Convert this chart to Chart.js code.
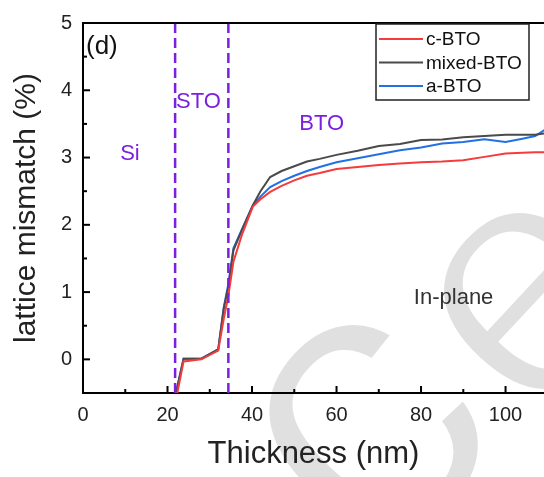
<!DOCTYPE html>
<html>
<head>
<meta charset="utf-8">
<script src="https://cdn.jsdelivr.net/npm/chart.js@4/dist/chart.umd.min.js"></script>
<style>
	html, body { margin: 0; padding: 0; background: #fff; }
	#wrap { width: 544px; height: 477px; }
</style>
</head>
<body>
<div id="wrap"><canvas id="chart"></canvas></div>
<script>
// thickness (nm) sampled along the depth profile
const thickness = [22, 23.8, 28, 32, 33.3, 34.4, 35.6, 37.6, 40.2, 42, 44.3, 47, 50, 53, 56, 60, 65, 70, 75, 80, 85, 90, 95, 100, 104, 107, 109.2];
const cBTO = [-0.6, -0.03, 0.0, 0.13, 0.6, 0.95, 1.45, 1.85, 2.27, 2.38, 2.49, 2.58, 2.66, 2.73, 2.77, 2.83, 2.86, 2.89, 2.91, 2.93, 2.94, 2.96, 3.01, 3.06, 3.07, 3.08, 3.08];
const mixedBTO = [-0.5, 0.01, 0.01, 0.15, 0.75, 1.08, 1.62, 1.92, 2.29, 2.5, 2.71, 2.8, 2.87, 2.94, 2.98, 3.04, 3.1, 3.17, 3.2, 3.26, 3.27, 3.3, 3.32, 3.34, 3.34, 3.34, 3.36];
const aBTO = [-0.5, 0.01, 0.01, 0.15, 0.77, 1.12, 1.65, 1.93, 2.29, 2.42, 2.56, 2.65, 2.73, 2.8, 2.86, 2.93, 2.99, 3.05, 3.11, 3.15, 3.21, 3.23, 3.27, 3.23, 3.28, 3.32, 3.41];

// layer boundaries (nm)
const boundaries = [21.8, 34.4];

const xTicks = [0, 20, 40, 60, 80, 100];
const yTicks = [0, 1, 2, 3, 4, 5];

const FONT = "'Liberation Sans', Arial, sans-serif";
const PURPLE = '#7b1fe0';

const toPoints = (xs, ys) => xs.map((x, i) => ({ x: x, y: ys[i] }));

const series = [
	{ label: 'c-BTO', data: cBTO, color: '#f53b3b' },
	{ label: 'mixed-BTO', data: mixedBTO, color: '#4a4a4a' },
	{ label: 'a-BTO', data: aBTO, color: '#2170e4' },
];

const datasets = boundaries.map((b) => ({
	label: '',
	data: [{ x: b, y: -0.5 }, { x: b, y: 5 }],
	borderColor: PURPLE,
	borderWidth: 2.5,
	borderDash: [10, 5],
	pointRadius: 0,
	showLine: true,
	boundary: true,
}));
series.forEach((s) => {
	datasets.push({
		label: s.label,
		data: toPoints(thickness, s.data),
		borderColor: s.color,
		backgroundColor: s.color,
		borderWidth: 2,
		pointRadius: 0,
		showLine: true,
		tension: 0,
	});
});

// faint publisher watermark behind the plot
const watermark = {
	id: 'watermark',
	beforeDraw(chart) {
		const ctx = chart.ctx;
		ctx.save();
		ctx.textAlign = 'center';
		ctx.textBaseline = 'alphabetic';
		[['c', 370, 434, 410], ['e', 534, 302, 345]].forEach(([ch, cx, cy, size]) => {
			ctx.save();
			ctx.font = size + 'px ' + FONT;
			ctx.translate(cx, cy);
			ctx.rotate(-47 * Math.PI / 180);
			ctx.fillStyle = '#e0e0e0';
			ctx.fillText(ch, 0, 0.26 * size);
			ctx.strokeStyle = '#fff';
			ctx.lineWidth = 8;
			ctx.strokeText(ch, 0, 0.26 * size);
			ctx.restore();
		});
		ctx.restore();
	},
};

// inward ticks, top frame, legend box and labels
const decor = {
	id: 'decor',
	afterDraw(chart) {
		const ctx = chart.ctx;
		const area = chart.chartArea;
		const xs = chart.scales.x, ys = chart.scales.y;
		ctx.save();
		ctx.strokeStyle = '#000';
		ctx.lineWidth = 2;
		ctx.beginPath();
		ctx.moveTo(area.left - 1, area.top);
		ctx.lineTo(area.right, area.top);
		ctx.stroke();

		xTicks.forEach((v) => {
			const px = xs.getPixelForValue(v);
			ctx.beginPath(); ctx.moveTo(px, area.bottom); ctx.lineTo(px, area.bottom - 7); ctx.stroke();
			const m = xs.getPixelForValue(v + 10);
			if (m < area.right) { ctx.beginPath(); ctx.moveTo(m, area.bottom); ctx.lineTo(m, area.bottom - 4); ctx.stroke(); }
		});
		yTicks.forEach((v) => {
			const py = ys.getPixelForValue(v);
			ctx.beginPath(); ctx.moveTo(area.left, py); ctx.lineTo(area.left + 7, py); ctx.stroke();
			const m = ys.getPixelForValue(v - 0.5);
			if (m <= area.bottom) { ctx.beginPath(); ctx.moveTo(area.left, m); ctx.lineTo(area.left + 4, m); ctx.stroke(); }
		});

		// text labels
		ctx.textBaseline = 'middle';
		ctx.textAlign = 'left';
		ctx.fillStyle = '#111';
		ctx.font = '26px ' + FONT;
		ctx.fillText('(d)', area.left + 3, area.top + 24);
		ctx.fillStyle = PURPLE;
		ctx.font = '22px ' + FONT;
		ctx.fillText('Si', xs.getPixelForValue(8.8), ys.getPixelForValue(3.05));
		ctx.fillText('STO', xs.getPixelForValue(22.0), ys.getPixelForValue(3.83));
		ctx.fillText('BTO', xs.getPixelForValue(51.2), ys.getPixelForValue(3.5));
		ctx.fillStyle = '#333';
		ctx.fillText('In-plane', xs.getPixelForValue(78.3), ys.getPixelForValue(0.91));

		// legend
		const lx = 376, ly = 24, lw = 153, lh = 76;
		ctx.lineWidth = 1.5;
		ctx.strokeStyle = '#222';
		ctx.strokeRect(lx, ly, lw, lh);
		ctx.font = '19px ' + FONT;
		ctx.fillStyle = '#111';
		chart.data.datasets.filter((d) => !d.boundary).forEach((d, i) => {
			const y = ly + 15 + i * 23.5;
			ctx.strokeStyle = d.borderColor;
			ctx.lineWidth = 2;
			ctx.beginPath(); ctx.moveTo(lx + 3, y); ctx.lineTo(lx + 47, y); ctx.stroke();
			ctx.fillText(d.label, lx + 50, y + 1);
		});
		ctx.restore();
	},
};

new Chart(document.getElementById('chart'), {
	type: 'scatter',
	data: { datasets: datasets },
	options: {
		responsive: true,
		maintainAspectRatio: false,
		animation: false,
		layout: { padding: { top: 19, right: 0, left: 0, bottom: 0 } },
		plugins: {
			legend: { display: false },
			tooltip: { enabled: false },
		},
		scales: {
			x: {
				type: 'linear',
				min: 0,
				max: 109.1,
				afterFit(s) { s.height = 84; },
				grid: { display: false, drawTicks: false },
				border: { display: true, color: '#000', width: 2 },
				ticks: {
					stepSize: 20,
					includeBounds: false,
					padding: 10,
					color: '#222',
					font: { family: FONT, size: 20 },
					maxRotation: 0,
				},
				title: {
					display: true,
					text: 'Thickness (nm)',
					color: '#222',
					font: { family: FONT, size: 31 },
					padding: { bottom: 4, top: 0 },
				},
			},
			y: {
				min: -0.5,
				max: 5,
				afterFit(s) { s.width = 83; },
				grid: { display: false, drawTicks: false },
				border: { display: true, color: '#000', width: 2 },
				ticks: {
					stepSize: 1,
					includeBounds: false,
					padding: 11,
					color: '#222',
					font: { family: FONT, size: 20 },
				},
				title: {
					display: true,
					text: 'lattice mismatch (%)',
					color: '#222',
					font: { family: FONT, size: 30 },
					padding: { top: 9, bottom: 0 },
				},
			},
		},
	},
	plugins: [watermark, decor],
});
</script>
</body>
</html>
